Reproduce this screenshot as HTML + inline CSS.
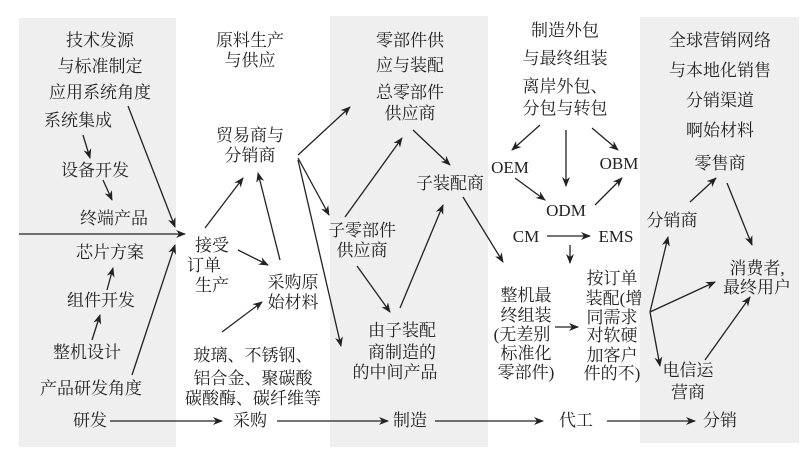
<!DOCTYPE html>
<html><head><meta charset="utf-8"><style>
body{margin:0;background:#fff}
svg text{font-family:"Liberation Serif","Noto Serif CJK SC",serif;font-size:17px;fill:#222;text-anchor:middle}
</style></head><body>
<svg width="809" height="456" viewBox="0 0 809 456" xmlns="http://www.w3.org/2000/svg">
<defs><marker id="a" markerWidth="10" markerHeight="8" refX="9" refY="4" orient="auto" markerUnits="userSpaceOnUse"><path d="M0,0 L10,4 L0,8 L3,4 Z" fill="#222"/></marker></defs>
<rect x="19" y="18" width="157" height="429" fill="#efefef"/>
<rect x="330" y="16" width="158" height="431" fill="#efefef"/>
<rect x="640" y="17" width="159" height="426" fill="#efefef"/>
<g>
<text x="100" y="46">技术发源</text>
<text x="100" y="72">与标准制定</text>
<text x="100" y="98">应用系统角度</text>
<text x="78" y="126">系统集成</text>
<text x="95" y="176">设备开发</text>
<text x="114" y="224">终端产品</text>
<text x="110" y="258">芯片方案</text>
<text x="101" y="306">组件开发</text>
<text x="87" y="358">整机设计</text>
<text x="91" y="394">产品研发角度</text>
<text x="90" y="426">研发</text>

<text x="250" y="46">原料生产</text>
<text x="250" y="66">与供应</text>
<text x="250" y="141">贸易商与</text>
<text x="250" y="161">分销商</text>
<text x="212" y="251">接受</text>
<text x="204" y="271">订单</text>
<text x="212" y="291">生产</text>
<text x="293" y="288">采购原</text>
<text x="293" y="308">始材料</text>
<text x="253" y="361">玻璃、不锈钢、</text>
<text x="253" y="384">铝合金、聚碳酸</text>
<text x="253" y="404">碳酸酶、碳纤维等</text>
<text x="250" y="426">采购</text>

<text x="410" y="46">零部件供</text>
<text x="410" y="71">应与装配</text>
<text x="410" y="98">总零部件</text>
<text x="410" y="119">供应商</text>
<text x="450" y="189">子装配商</text>
<text x="362" y="236">子零部件</text>
<text x="362" y="256">供应商</text>
<text x="402" y="336">由子装配</text>
<text x="402" y="358">商制造的</text>
<text x="395" y="378">的中间产品</text>
<text x="410" y="426">制造</text>

<text x="565" y="36">制造外包</text>
<text x="565" y="64">与最终组装</text>
<text x="565" y="92">离岸外包、</text>
<text x="565" y="114">分包与转包</text>
<text x="510" y="173">OEM</text>
<text x="619" y="169">OBM</text>
<text x="566" y="216">ODM</text>
<text x="526" y="242">CM</text>
<text x="616" y="242">EMS</text>
<text x="526" y="301">整机最</text>
<text x="526" y="321">终组装</text>
<text x="522" y="340">(无差别</text>
<text x="526" y="359">标准化</text>
<text x="526" y="378">零部件)</text>
<text x="612" y="284">按订单</text>
<text x="614" y="304">装配(增</text>
<text x="612" y="323">同需求</text>
<text x="612" y="341">对软硬</text>
<text x="612" y="361">加客户</text>
<text x="612" y="379">件的不)</text>
<text x="576" y="426">代工</text>

<text x="720" y="46">全球营销网络</text>
<text x="720" y="76">与本地化销售</text>
<text x="720" y="106">分销渠道</text>
<text x="720" y="136">啊始材料</text>
<text x="720" y="169">零售商</text>
<text x="672" y="226">分销商</text>
<text x="757" y="274">消费者,</text>
<text x="757" y="293">最终用户</text>
<text x="688" y="376">电信运</text>
<text x="688" y="398">营商</text>
<text x="720" y="426">分销</text>
</g>
<g stroke="#222" stroke-width="1.3" fill="none" marker-end="url(#a)">
<line x1="128" y1="106" x2="175" y2="227"/>
<line x1="83" y1="135" x2="90" y2="158"/>
<line x1="103" y1="180" x2="112" y2="200"/>
<line x1="19" y1="234" x2="185" y2="234"/>
<line x1="132" y1="375" x2="175" y2="245"/>
<line x1="92" y1="340" x2="100" y2="315"/>
<line x1="107" y1="290" x2="113" y2="268"/>
<line x1="205" y1="228" x2="243" y2="178"/>
<line x1="280" y1="260" x2="258" y2="173"/>
<line x1="238" y1="250" x2="268" y2="265"/>
<line x1="222" y1="332" x2="262" y2="302"/>
<line x1="298" y1="155" x2="350" y2="107"/>
<line x1="298" y1="158" x2="329" y2="215"/>
<line x1="298" y1="160" x2="341" y2="346"/>
<line x1="357" y1="266" x2="390" y2="312"/>
<line x1="345" y1="217" x2="402" y2="138"/>
<line x1="400" y1="308" x2="443" y2="205"/>
<line x1="413" y1="130" x2="450" y2="165"/>
<line x1="463" y1="197" x2="503" y2="262"/>
<line x1="540" y1="125" x2="512" y2="150"/>
<line x1="566" y1="130" x2="566" y2="186"/>
<line x1="592" y1="128" x2="618" y2="150"/>
<line x1="515" y1="178" x2="545" y2="200"/>
<line x1="595" y1="205" x2="622" y2="178"/>
<line x1="547" y1="236" x2="590" y2="236"/>
<line x1="570" y1="245" x2="570" y2="263"/>
<line x1="555" y1="327" x2="578" y2="327"/>
<line x1="650" y1="312" x2="668" y2="237"/>
<line x1="650" y1="312" x2="715" y2="282"/>
<line x1="650" y1="312" x2="660" y2="366"/>
<line x1="690" y1="202" x2="716" y2="178"/>
<line x1="727" y1="183" x2="752" y2="245"/>
<line x1="705" y1="360" x2="750" y2="297"/>
<line x1="110" y1="421" x2="222" y2="421"/>
<line x1="277" y1="421" x2="388" y2="421"/>
<line x1="435" y1="421" x2="543" y2="421"/>
<line x1="607" y1="421" x2="695" y2="421"/>
</g>
</svg>
</body></html>
